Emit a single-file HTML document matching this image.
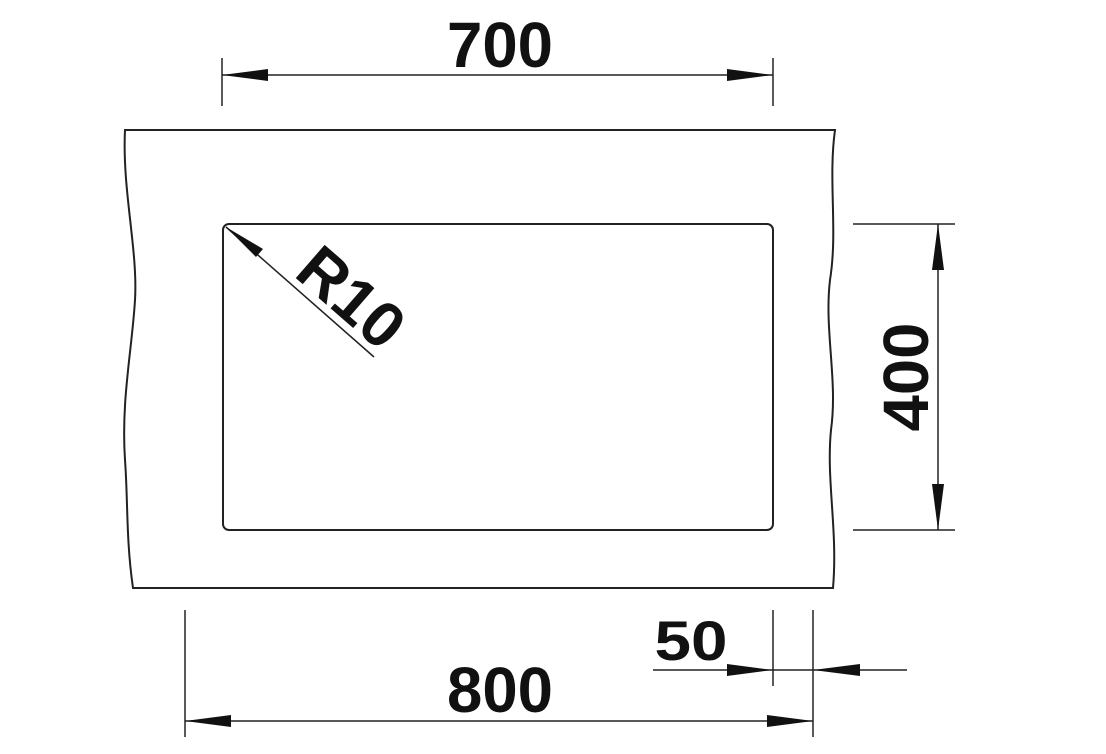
<!DOCTYPE html>
<html><head><meta charset="utf-8"><style>
html,body{margin:0;padding:0;background:#fff;width:1106px;height:754px;overflow:hidden}
svg{display:block}
text{font-family:"Liberation Sans",sans-serif;font-weight:bold;fill:#111}
</style></head><body>
<svg width="1106" height="754" viewBox="0 0 1106 754" xmlns="http://www.w3.org/2000/svg">
<g stroke="#222" stroke-width="2" fill="none">
<path d="M125,130 L835,130 C828,180 838,230 830,280 C824,330 838,380 831,430 C826,480 838,530 833,588 L133,588 C126,540 128,500 125,460 C121,400 132,350 135,300 C138,250 122,190 125,130 Z"/>
<rect x="223" y="224" width="550" height="306" rx="6"/>
<line x1="226" y1="227" x2="374" y2="357" stroke-width="1.5"/>
<line x1="222" y1="58" x2="222" y2="106" stroke-width="1.5"/>
<line x1="773" y1="58" x2="773" y2="106" stroke-width="1.5"/>
<line x1="222" y1="75" x2="773" y2="75" stroke-width="1.5"/>
<line x1="853" y1="224" x2="955" y2="224" stroke-width="1.5"/>
<line x1="853" y1="530" x2="955" y2="530" stroke-width="1.5"/>
<line x1="938" y1="224" x2="938" y2="530" stroke-width="1.5"/>
<line x1="185" y1="610" x2="185" y2="737" stroke-width="1.5"/>
<line x1="813" y1="610" x2="813" y2="737" stroke-width="1.5"/>
<line x1="185" y1="721" x2="813" y2="721" stroke-width="1.5"/>
<line x1="773" y1="610" x2="773" y2="686" stroke-width="1.5"/>
<line x1="653" y1="670" x2="907" y2="670" stroke-width="1.5"/>
</g>
<g fill="#111">
<polygon points="222,75 268,69 268,81"/>
<polygon points="773,75 727,69 727,81"/>
<polygon points="938,224 932,270 944,270"/>
<polygon points="938,530 932,484 944,484"/>
<polygon points="185,721 231,715 231,727"/>
<polygon points="813,721 767,715 767,727"/>
<polygon points="773,670 727,664 727,676"/>
<polygon points="813,670 860,664 860,676"/>
<polygon points="226,227 263,249 256,257"/>
</g>
<text x="500" y="67" font-size="64" text-anchor="middle" textLength="106" lengthAdjust="spacingAndGlyphs">700</text>
<text x="500" y="712" font-size="64" text-anchor="middle" textLength="106" lengthAdjust="spacingAndGlyphs">800</text>
<text x="691" y="660" font-size="56" text-anchor="middle" textLength="73" lengthAdjust="spacingAndGlyphs">50</text>
<text x="0" y="0" font-size="64" text-anchor="middle" textLength="109" lengthAdjust="spacingAndGlyphs" transform="translate(928,377) rotate(-90)">400</text>
<text x="0" y="0" font-size="64" text-anchor="middle" textLength="118" lengthAdjust="spacingAndGlyphs" transform="translate(337,314) rotate(41)">R10</text>
</svg>
</body></html>
